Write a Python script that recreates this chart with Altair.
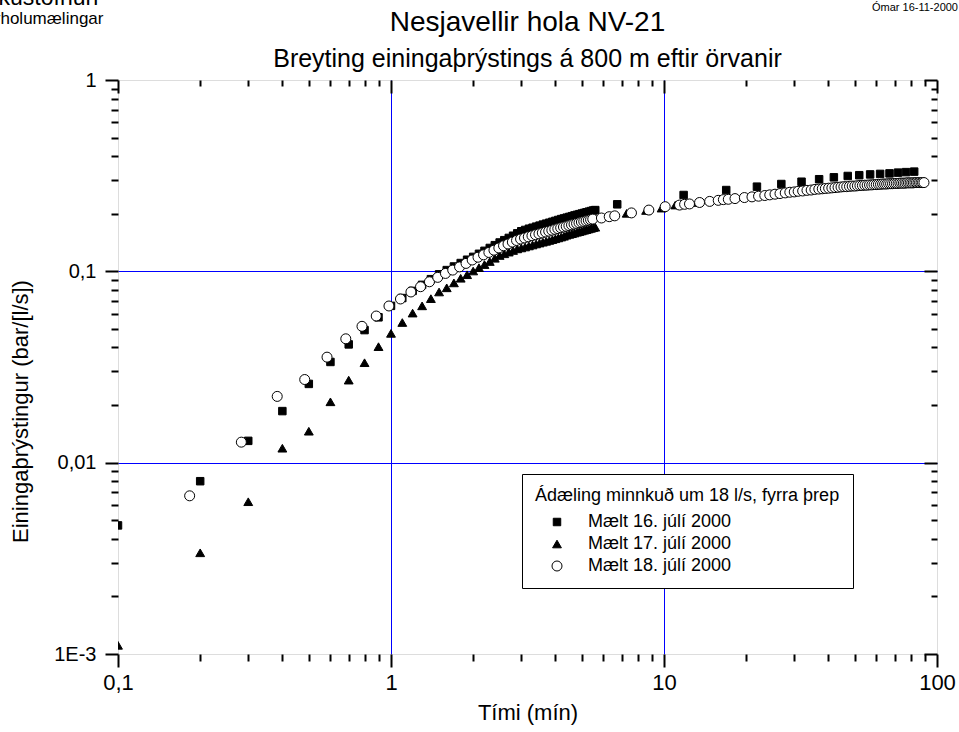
import altair as alt
import pandas as pd

FONT = "Liberation Sans"

series_names = ["Mælt 16. júlí 2000", "Mælt 17. júlí 2000", "Mælt 18. júlí 2000"]
legend_title = "Ádæling minnkuð um 18 l/s, fyrra þrep"
chart_title = "Nesjavellir hola NV-21"
chart_subtitle = "Breyting einingaþrýstings á 800 m eftir örvanir"

# Mælt 16. júlí 2000 (squares)
t16 = [0.1, 0.2, 0.3, 0.4, 0.5, 0.6, 0.7, 0.8, 0.9,
       1.0, 1.1, 1.2, 1.3, 1.4, 1.5, 1.6, 1.7, 1.8, 1.9,
       2.0, 2.1, 2.2, 2.3, 2.4, 2.5, 2.6, 2.7, 2.8, 2.9,
       3.0, 3.1, 3.2, 3.3, 3.4, 3.5, 3.6, 3.7, 3.8, 3.9,
       4.0, 4.1, 4.2, 4.3, 4.4, 4.5, 4.6, 4.7, 4.8, 4.9,
       5.0, 5.1, 5.2, 5.3, 5.4, 5.5, 5.6,
       6.74, 11.8, 16.9, 21.9, 26.9, 31.9, 37.0, 41.9, 47.1, 51.9,
       56.9, 61.9, 67.0, 72.0, 77.0, 82.5]
p16 = [0.0047, 0.0080, 0.0130, 0.0186, 0.0258, 0.0336, 0.0415, 0.0493, 0.0575,
       0.066, 0.0725, 0.079, 0.085, 0.091, 0.0965, 0.1015, 0.106, 0.1105, 0.115,
       0.119, 0.1235, 0.128, 0.1325, 0.137, 0.1415, 0.1455, 0.1495, 0.1535, 0.158,
       0.162, 0.1645, 0.167, 0.169, 0.1712, 0.1733, 0.1755, 0.1775, 0.1795, 0.1815,
       0.1835, 0.1855, 0.1875, 0.189, 0.1908, 0.1925, 0.1942, 0.196, 0.1975, 0.199,
       0.2005, 0.202, 0.2035, 0.205, 0.2065, 0.208, 0.209,
       0.224, 0.2506, 0.266, 0.277, 0.286, 0.294, 0.303, 0.310, 0.315, 0.318,
       0.321, 0.323, 0.325, 0.328, 0.330, 0.332]

# Mælt 17. júlí 2000 (triangles)
t17 = [0.1, 0.2, 0.3, 0.4, 0.5, 0.6, 0.7, 0.8, 0.9,
       1.0, 1.1, 1.2, 1.3, 1.4, 1.5, 1.6, 1.7, 1.8, 1.9,
       2.0, 2.1, 2.2, 2.3, 2.4, 2.5, 2.6, 2.7, 2.8, 2.9,
       3.0, 3.1, 3.2, 3.3, 3.4, 3.5, 3.6, 3.7, 3.8, 3.9,
       4.0, 4.1, 4.2, 4.3, 4.4, 4.5, 4.6, 4.7, 4.8, 4.9,
       5.0, 5.1, 5.2, 5.3, 5.4, 5.5, 5.6,
       6.2, 7.3, 8.6, 9.8, 11.0, 13.3]
p17 = [0.00111, 0.00338, 0.00625, 0.0119, 0.0146, 0.0208, 0.0270, 0.0333, 0.0404,
       0.0474, 0.054, 0.0605, 0.066, 0.072, 0.078, 0.082, 0.087, 0.092, 0.096,
       0.1004, 0.1045, 0.1085, 0.1125, 0.117, 0.121, 0.1235, 0.126, 0.1285, 0.131,
       0.1325, 0.134, 0.1357, 0.1373, 0.139, 0.1405, 0.142, 0.1435, 0.145, 0.1465,
       0.148, 0.1495, 0.151, 0.1525, 0.1545, 0.156, 0.1573, 0.1586, 0.16, 0.1613,
       0.1626, 0.1639, 0.1652, 0.1665, 0.1678, 0.169, 0.170,
       0.193, 0.201, 0.208, 0.214, 0.222, 0.229]

# Mælt 18. júlí 2000 (open circles)
t18 = [0.183, 0.283, 0.383, 0.483, 0.583, 0.683, 0.783, 0.883, 0.983,
       1.083, 1.183, 1.283, 1.383, 1.483, 1.583, 1.683, 1.783, 1.883, 1.983,
       2.083, 2.183, 2.283, 2.383, 2.483, 2.583, 2.683, 2.783, 2.883, 2.983,
       3.083, 3.183, 3.283, 3.383, 3.483, 3.583, 3.683, 3.783, 3.883, 3.983,
       4.083, 4.183, 4.283, 4.383, 4.483, 4.583, 4.683, 4.783, 4.883, 4.983,
       5.083, 5.183, 5.283, 5.383, 5.483,
       5.9, 6.3, 6.6, 7.6, 8.8, 10.1, 11.4, 11.9, 12.4, 13.5, 14.7, 15.8,
       16.5, 17.2, 18.2, 19.7, 21.0, 22.2, 23.4, 24.4, 25.5, 26.6, 27.8, 28.9,
       30.0, 31.0, 32.2, 33.4, 34.6, 35.7, 36.9, 38.0, 39.0, 40.1, 41.2, 42.3,
       43.4, 44.5, 45.6, 46.7, 47.8, 48.9, 50.0, 51.1, 52.2, 53.3, 54.4, 55.5,
       56.6, 57.7, 58.8, 59.9, 61.0, 62.1, 63.2, 64.3, 65.4, 66.5, 67.6, 68.7,
       69.8, 70.9, 72.0, 73.1, 74.2, 75.3, 76.4, 77.5, 78.6, 79.7, 80.8, 81.9,
       83.0, 84.1, 85.2, 86.3, 87.4, 88.5, 89.6]
p18 = [0.00671, 0.0128, 0.0222, 0.0272, 0.0356, 0.0444, 0.0516, 0.0584, 0.0659,
       0.0717, 0.078, 0.0831, 0.0882, 0.093, 0.0975, 0.1015, 0.1055, 0.110, 0.1146,
       0.1185, 0.122, 0.1255, 0.129, 0.1325, 0.136, 0.139, 0.1422, 0.145, 0.1475,
       0.1495, 0.1515, 0.1535, 0.1553, 0.157, 0.1588, 0.1605, 0.1622, 0.164, 0.1657,
       0.1673, 0.169, 0.1705, 0.172, 0.1735, 0.175, 0.1765, 0.178, 0.1795, 0.181,
       0.1823, 0.1836, 0.185, 0.1862, 0.1875,
       0.190, 0.193, 0.195, 0.202, 0.209, 0.2177, 0.222, 0.224, 0.225, 0.229, 0.232, 0.235,
       0.237, 0.238, 0.240, 0.243, 0.245, 0.247, 0.249, 0.251, 0.253, 0.255, 0.257, 0.259,
       0.260, 0.262, 0.263, 0.265, 0.266, 0.268, 0.269, 0.270, 0.271, 0.272, 0.273, 0.274,
       0.275, 0.276, 0.277, 0.277, 0.278, 0.279, 0.279, 0.280, 0.281, 0.281, 0.282, 0.282,
       0.283, 0.283, 0.284, 0.284, 0.285, 0.285, 0.286, 0.286, 0.286, 0.287, 0.287, 0.287,
       0.288, 0.288, 0.288, 0.289, 0.289, 0.289, 0.289, 0.290, 0.290, 0.290, 0.290, 0.290,
       0.291, 0.291, 0.291, 0.291, 0.291, 0.291, 0.291]

x_tick_values = [0.1, 1, 10, 100]
x_tick_labels = ["0,1", "1", "10", "100"]
y_tick_values = [0.001, 0.01, 0.1, 1]
y_tick_labels = ["1E-3", "0,01", "0,1", "1"]
x_grid_values = [1, 10]
y_grid_values = [0.01, 0.1]
x_minor = [m * d for d in (0.1, 1, 10) for m in range(2, 10)]
y_minor = [m * d for d in (0.001, 0.01, 0.1) for m in range(2, 10)]

header_left_1 = "Orkustofnun"
header_left_2 = "Borholumælingar"
header_right = "Ómar 16-11-2000"

rows = []
for name, ts, ps in zip(series_names, [t16, t17, t18], [p16, p17, p18]):
    for t, p in zip(ts, ps):
        rows.append({"series": name, "t": t, "p": p})
df = pd.DataFrame(rows)


def label_expr(values, labels):
    expr = "''"
    for v, l in zip(values, labels):
        expr = f"abs(log(datum.value) - log({v})) < 0.01 ? '{l}' : " + expr
    return expr


xscale = alt.Scale(type="log", domain=[0.1, 100], nice=False)
yscale = alt.Scale(type="log", domain=[0.001, 1], nice=False)

common = dict(tickColor="black", tickWidth=2, grid=False, labelFont=FONT,
              titleFont=FONT, labelColor="black", titleColor="black")

ax_bottom = alt.Axis(orient="bottom", values=x_tick_values,
                     labelExpr=label_expr(x_tick_values, x_tick_labels),
                     tickSize=13, domain=False, labelFontSize=22, labelPadding=5,
                     labelFlush=False, labelOverlap=False,
                     title="Tími (mín)", titleFontSize=22, titleFontWeight="normal",
                     titlePadding=9, **common)
ax_left = alt.Axis(orient="left", values=y_tick_values,
                   labelExpr=label_expr(y_tick_values, y_tick_labels),
                   tickSize=13, domain=False, labelFontSize=20, labelPadding=9,
                   labelFlush=False, labelOverlap=False, labelBaseline="middle",
                   title="Einingaþrýstingur (bar/[l/s])", titleFontSize=22,
                   titleFontWeight="normal", titleX=-98, titleY=331,
                   titleAlign="center", titleBaseline="middle", titleAngle=270,
                   **common)
ax_bottom_minor = alt.Axis(orient="bottom", values=x_minor, labels=False, tickSize=7,
                           domain=False, title=None, **common)
ax_left_minor = alt.Axis(orient="left", values=y_minor, labels=False, tickSize=7,
                         domain=False, title=None, **common)
ax_top = alt.Axis(orient="top", offset=-13, values=x_tick_values, labels=False,
                  tickSize=13, domain=False, title=None, **common)
ax_top_minor = alt.Axis(orient="top", offset=-6, values=x_minor, labels=False,
                        tickSize=6, domain=False, title=None, **common)
ax_right = alt.Axis(orient="right", offset=-13, values=y_tick_values, labels=False,
                    tickSize=13, domain=False, title=None, **common)
ax_right_minor = alt.Axis(orient="right", offset=-6, values=y_minor, labels=False,
                          tickSize=6, domain=False, title=None, **common)
ax_xgrid = alt.Axis(orient="bottom", values=x_grid_values, labels=False, ticks=False,
                    domain=False, title=None, grid=True, gridColor="#0000ff",
                    gridWidth=1, gridOpacity=1, zindex=0)
ax_ygrid = alt.Axis(orient="left", values=y_grid_values, labels=False, ticks=False,
                    domain=False, title=None, grid=True, gridColor="#0000ff",
                    gridWidth=1, gridOpacity=1, zindex=0)

legend = alt.Legend(title=legend_title, orient="none", legendX=404, legendY=394,
                    padding=13, strokeColor="black", fillColor="white",
                    titleFont=FONT, titleFontSize=18, titleFontWeight="normal",
                    titleColor="black", titlePadding=8, titleLimit=600,
                    labelFont=FONT, labelFontSize=18, labelColor="black",
                    labelLimit=400, symbolOffset=13, labelOffset=22, rowPadding=4,
                    symbolStrokeColor="black", symbolStrokeWidth=1)

base = alt.Chart(df)

points = base.mark_point(filled=True, strokeWidth=1, opacity=1, clip=True).encode(
    x=alt.X("t:Q", scale=xscale, axis=ax_bottom),
    y=alt.Y("p:Q", scale=yscale, axis=ax_left),
    shape=alt.Shape("series:N", scale=alt.Scale(domain=series_names,
                    range=["square", "triangle-up", "circle"]), legend=legend),
    fill=alt.Fill("series:N", scale=alt.Scale(domain=series_names,
                  range=["black", "black", "white"]), legend=legend),
    stroke=alt.Stroke("series:N", scale=alt.Scale(domain=series_names,
                      range=["black", "black", "black"]), legend=legend),
    size=alt.Size("series:N", scale=alt.Scale(domain=series_names,
                  range=[56, 100, 64]), legend=legend),
)


def axis_layer(xa, ya):
    return base.mark_point(opacity=0, clip=True).encode(
        x=alt.X("t:Q", scale=xscale, axis=xa),
        y=alt.Y("p:Q", scale=yscale, axis=ya),
    )


grid_layer = axis_layer(ax_xgrid, ax_ygrid)
minor_layer = axis_layer(ax_bottom_minor, ax_left_minor)
top_right_layer = axis_layer(ax_top, ax_right)
top_right_minor_layer = axis_layer(ax_top_minor, ax_right_minor)


def text_layer(txt, x, y, size, align):
    return alt.Chart(pd.DataFrame({"txt": [txt]})).mark_text(
        align=align, baseline="alphabetic", font=FONT, fontSize=size, color="black"
    ).encode(x=alt.value(x), y=alt.value(y), text="txt:N")


hdr1 = text_layer(header_left_1, -145, -75, 23, "left")
hdr2 = text_layer(header_left_2, -144, -56, 17, "left")
hdr3 = text_layer(header_right, 840, -69, 11, "right")
ttl = text_layer(chart_title, 409.5, -49, 28, "center")
sub = text_layer(chart_subtitle, 409.5, -13, 25, "center")

chart = alt.layer(
    grid_layer, points, minor_layer, top_right_layer, top_right_minor_layer,
    hdr1, hdr2, hdr3, ttl, sub
).resolve_axis(x="independent", y="independent").properties(
    width=819, height=574,
    autosize=alt.AutoSizeParams(type="none"),
    padding={"left": 118, "top": 80, "right": 22, "bottom": 78},
).configure_view(stroke="black", strokeWidth=2).configure_legend(
    strokeWidth=1.5
).configure(background="white")

chart.save("out.html", embed_options={"renderer": "svg", "actions": False})
